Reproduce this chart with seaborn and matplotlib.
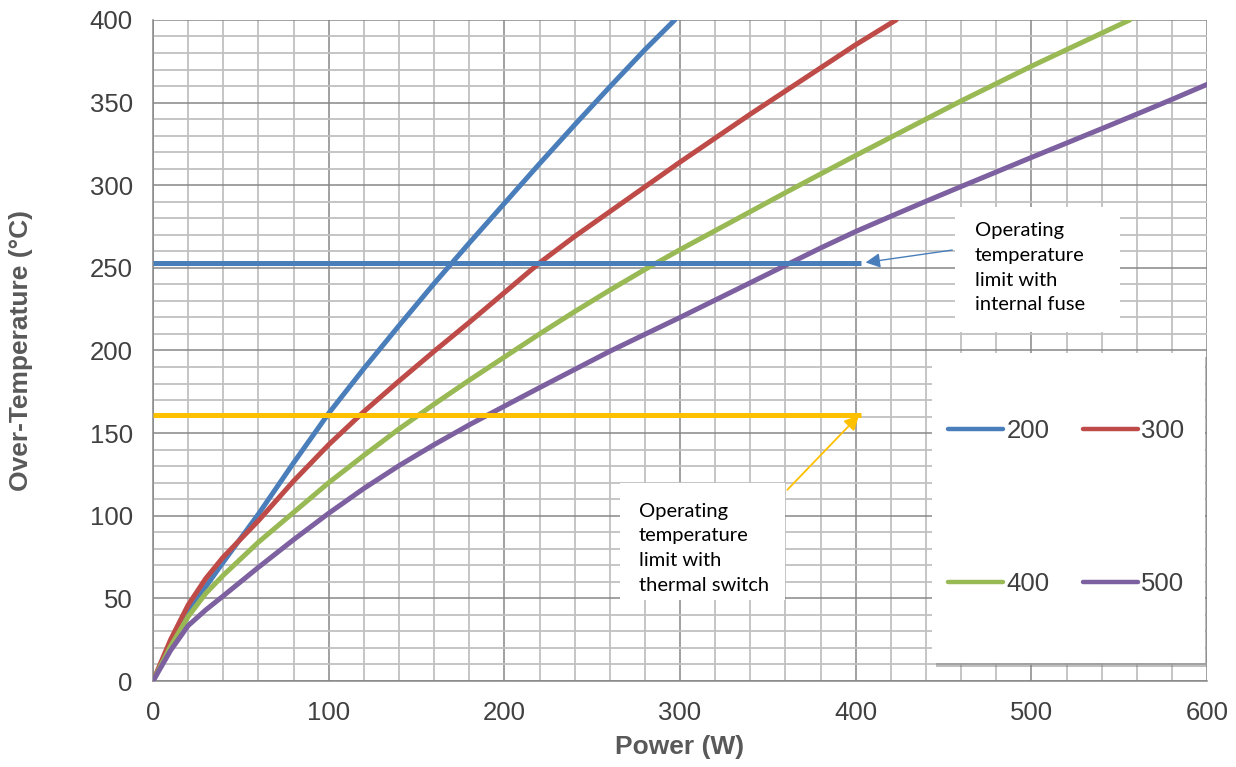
import matplotlib
matplotlib.use("Agg")
import matplotlib.pyplot as plt
import matplotlib.patheffects as pe
from matplotlib.patches import Rectangle
from matplotlib.ticker import MultipleLocator
import numpy as np
import pandas as pd
import seaborn as sns

# values
series_names = ["200", "300", "400", "500"]

power_200 = [0, 10, 20, 30, 40, 60, 80, 100, 120, 140, 160, 180, 200, 220, 240, 260, 280, 297]
temp_200 = [0, 22, 43, 57, 72, 101, 132, 162, 189, 215, 240.5, 265, 289, 313, 336.5, 359.5, 382, 400]

power_300 = [0, 10, 20, 30, 40, 60, 80, 100, 120, 140, 160, 180, 200, 220, 240, 260, 280, 300,
             320, 340, 360, 380, 400, 423]
temp_300 = [0, 25, 46, 62, 75, 97, 121, 143, 163, 181.5, 199.5, 217, 235, 253, 269, 284, 299, 314,
            328.5, 343, 357, 371, 385, 400]

power_400 = [0, 10, 20, 30, 40, 60, 80, 100, 120, 140, 160, 180, 200, 220, 240, 260, 280, 300,
             320, 340, 360, 380, 400, 420, 440, 460, 480, 500, 520, 540, 556]
temp_400 = [0, 21, 39, 53, 64, 84, 102, 120, 136.5, 152.5, 167.5, 182, 196, 210, 223.5, 236.5,
            249, 261, 272.5, 284, 295.5, 306.8, 318, 329, 340, 351, 361.5, 372, 382, 392, 400]

power_500 = [0, 10, 20, 30, 40, 60, 80, 100, 120, 140, 160, 180, 200, 220, 240, 260, 280, 300,
             320, 340, 360, 380, 400, 420, 440, 460, 480, 500, 520, 540, 560, 580, 600]
temp_500 = [0, 18.5, 33.5, 43, 51.5, 68.8, 85.5, 101.5, 116.5, 130.3, 143, 155, 166.3, 177.5,
            188.5, 199.5, 209.8, 220, 230.5, 241, 251.5, 262, 272, 281.2, 290.3, 299.2, 308,
            316.8, 325.5, 334.2, 343, 351.9, 361]

fuse_limit = 253
switch_limit = 161
limit_end = 403

colors = ["#4A7EBB", "#BE4B48", "#98B954", "#7D60A0"]

frames = []
for name, p, t in zip(series_names, [power_200, power_300, power_400, power_500],
                      [temp_200, temp_300, temp_400, temp_500]):
    frames.append(pd.DataFrame({"power": p, "temp": t, "series": name}))
df = pd.concat(frames, ignore_index=True)

sns.set_style("white")
plt.rcParams["font.family"] = ["Liberation Sans", "DejaVu Sans"]

fig = plt.figure(figsize=(12.36, 7.67), dpi=100)
ax = fig.add_axes([0.1238, 0.1121, 0.8528, 0.8619])

sns.lineplot(data=df, x="power", y="temp", hue="series", palette=colors,
             linewidth=3.6, estimator=None, sort=False, ax=ax, zorder=3,
             solid_capstyle="round")

ax.hlines(fuse_limit, 0, limit_end, color="#4A7EBB", lw=3.6, zorder=4)
ax.hlines(switch_limit, 0, limit_end, color="#FFC000", lw=3.6, zorder=4)

ax.set_xlim(0, 600)
ax.set_ylim(0, 400)
ax.xaxis.set_major_locator(MultipleLocator(100))
ax.xaxis.set_minor_locator(MultipleLocator(20))
ax.yaxis.set_major_locator(MultipleLocator(50))
ax.yaxis.set_minor_locator(MultipleLocator(10))
ax.set_axisbelow(True)
ax.grid(which="minor", color="#C0C0C0", lw=1.3)
ax.grid(which="major", color="#878787", lw=1.1)
for s in ["top", "right"]:
    ax.spines[s].set_visible(False)
for s in ["left", "bottom"]:
    ax.spines[s].set_color("#878787")
    ax.spines[s].set_linewidth(1.1)
ax.tick_params(which="major", direction="out", length=3.6, width=1.1, color="#878787",
               labelsize=18.5, labelcolor="#404040")
ax.tick_params(axis="x", pad=11)
ax.tick_params(axis="y", pad=11)
ax.tick_params(which="minor", length=0)

ax.set_xlabel("Power (W)", fontsize=19, fontweight="bold", color="#595959")
ax.set_ylabel("Over-Temperature (°C)", fontsize=19, fontweight="bold", color="#595959")
ax.xaxis.set_label_coords(0.5, -0.082)
ax.yaxis.set_label_coords(-0.114, 0.5)

# note boxes
note_font = ["Lato", "DejaVu Sans"]
ax.add_patch(Rectangle((456.5, 211.2), 94, 75.6, facecolor="white", edgecolor="none", zorder=5))
ax.text(467.9, 277.5, "Operating\ntemperature\nlimit with\ninternal fuse", family=note_font,
        fontsize=14.5, va="top", ha="left", linespacing=1.55, color="black", zorder=6)
ax.add_patch(Rectangle((265.8, 49), 94, 70.8, facecolor="white", edgecolor="none", zorder=5))
ax.text(276.7, 108, "Operating\ntemperature\nlimit with\nthermal switch", family=note_font,
        fontsize=14.5, va="top", ha="left", linespacing=1.55, color="black", zorder=6)

ax.annotate("", xy=(404, 253), xytext=(456.5, 261),
            arrowprops=dict(arrowstyle="-|>", color="#4A7EBB", lw=1.0, mutation_scale=22),
            zorder=6)
ax.annotate("", xy=(403, 162), xytext=(360, 114.5),
            arrowprops=dict(arrowstyle="-|>", color="#FFC000", lw=1.3, mutation_scale=22),
            zorder=6)

# legend box with shadow
box = Rectangle((443.4, 10.9), 155.5, 187.6, facecolor="white", edgecolor="none", zorder=5)
box.set_path_effects([pe.SimplePatchShadow(offset=(3, -3), shadow_rgbFace="#808080", alpha=0.5),
                      pe.Normal()])
ax.add_patch(box)

handles, labels = ax.get_legend_handles_labels()
order = [0, 2, 1, 3]
leg = ax.legend([handles[i] for i in order], [labels[i] for i in order], ncol=2,
                loc="upper left", bbox_to_anchor=(452.6, 158.5), bbox_transform=ax.transData,
                frameon=False, fontsize=18.5, handlelength=2.15, handletextpad=0.12,
                columnspacing=1.3, labelspacing=5.0, borderpad=0, borderaxespad=0)
leg.set_zorder(7)
for t in leg.get_texts():
    t.set_color("#404040")
for h in leg.get_lines():
    h.set_linewidth(3.2)
    h.set_solid_capstyle("round")

fig.savefig("out.png", dpi=100)
